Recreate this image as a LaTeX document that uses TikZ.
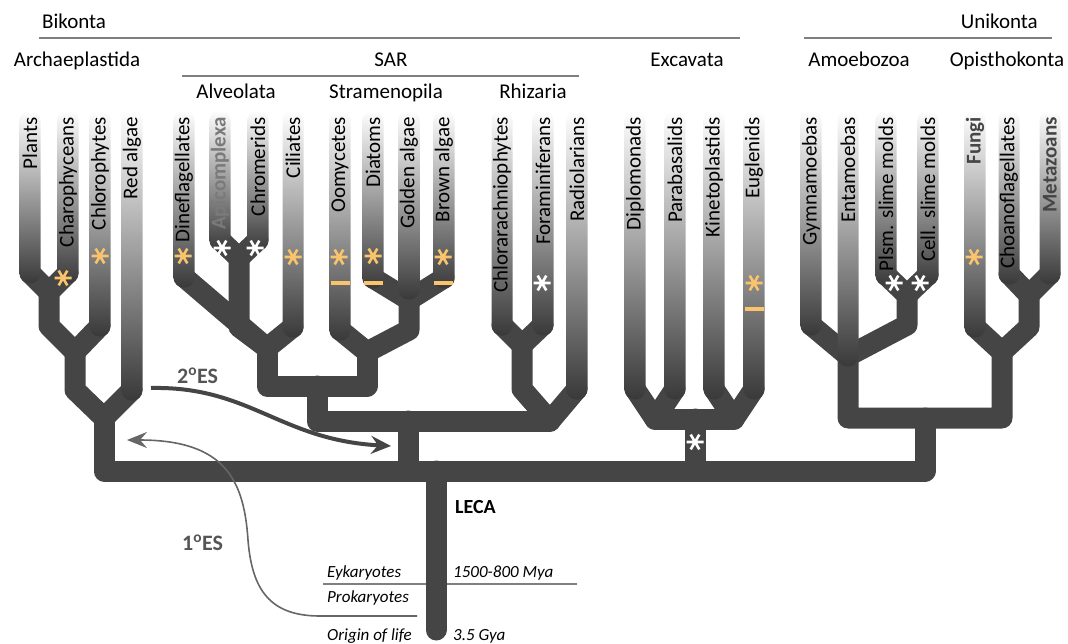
\documentclass[tikz,border=0pt]{standalone}
\usepackage{fontspec}
\setmainfont{Carlito}
\usepackage{tikz}
\usetikzlibrary{backgrounds, calc, arrows.meta}

\definecolor{treegray}{HTML}{454545}
\definecolor{roddark}{HTML}{393939}
\definecolor{markorange}{HTML}{F9C46B}
\definecolor{rulegray}{HTML}{7F7F7F}
\definecolor{esgray}{HTML}{555555}
\definecolor{palegray}{HTML}{7A7A7A}

\newcommand{\taxsize}{\fontsize{21}{25}\selectfont}
\newcommand{\erasize}{\fontsize{17}{20}\selectfont\itshape}

\begin{document}
\begin{tikzpicture}[x=1pt, y=-1pt,
	branch/.style={draw=treegray, line width=21pt, line join=round, line cap=round},
	rule/.style={draw=rulegray, line width=2pt},
	clade/.style={font=\taxsize, anchor=base, inner sep=0pt},
	taxon/.style={font=\taxsize, rotate=90, anchor=east, inner sep=0pt},
	taxonbold/.style={taxon, font=\taxsize\bfseries, text=treegray},
	taxonpale/.style={taxon, font=\taxsize\bfseries, text=palegray},
	era/.style={font=\erasize, anchor=base west, inner sep=0pt},
	eslabel/.style={font=\fontsize{22}{26}\selectfont\bfseries, text=esgray, anchor=base west, inner sep=0pt},
	astmark/.pic={\draw[line width=2.6pt] (-8.5,0) -- (8.5,0) (-4.3,-7.4) -- (4.3,7.4) (-4.3,7.4) -- (4.3,-7.4);},
	dashmark/.pic={\draw[line width=3.4pt] (-9.5,0) -- (9.5,0);}
	]

\useasboundingbox (0,0) rectangle (1068,644);

% groups
\node[clade, anchor=base west] (bikonta) at (42,29) {Bikonta};
\node[clade, anchor=base east] (unikonta) at (1038,29) {Unikonta};
\node[clade] (archae) at (77,67) {Archaeplastida};
\node[clade] (sarname) at (391,67) {SAR};
\node[clade] (excav) at (687,67) {Excavata};
\node[clade] (amoebo) at (859,67) {Amoebozoa};
\node[clade] (opistho) at (1007,67) {Opisthokonta};
\node[clade] (alveo) at (236,99) {Alveolata};
\node[clade] (strameno) at (386,99) {Stramenopila};
\node[clade] (rhiza) at (533,99) {Rhizaria};
\draw[rule] (39,38) -- (740,38);
\draw[rule] (804,38) -- (1052,38);
\draw[rule] (182,76) -- (579,76);

% leaves
\foreach \nm/\x/\yb/\txt/\st in {
	plants/30/273/Plants/taxon,
	charo/68/273/Charophyceans/taxon,
	chloro/100/326/Chlorophytes/taxon,
	red/132/390/Red algae/taxon,
	dino/184/277/Dineflagellates/taxon,
	apico/220/240/Apicomplexa/taxonpale,
	chrom/258/240/Chromerids/taxon,
	cili/293/327/Ciliates/taxon,
	oomy/340/330/Oomycetes/taxon,
	diat/373/278/Diatoms/taxon,
	gold/409/289/Golden algae/taxon,
	brown/444/278/Brown algae/taxon,
	chlor/502/325/Chlorarachniophytes/taxon,
	foram/543/325/Foraminiferans/taxon,
	radio/577/389/Radiolarians/taxon,
	diplo/635/389/Diplomonads/taxon,
	para/675/389/Parabasalids/taxon,
	kine/714/389/Kinetoplastids/taxon,
	eugl/754/389/Euglenids/taxon,
	gymn/811/325/Gymnamoebas/taxon,
	enta/848/356/Entamoebas/taxon,
	plsm/886/275/Plsm. slime molds/taxon,
	cell/928/275/Cell. slime molds/taxon,
	fungi/975/327/Fungi/taxonbold,
	choano/1009/274/Choanoflagellates/taxon,
	meta/1050/274/Metazoans/taxonbold}
{
	\shade[top color=white, bottom color=roddark, rounded corners=10pt]
		(\x-10.5,110) rectangle (\x+10.5,\yb+10.5);
	\coordinate (\nm) at (\x,\yb);
	\node[\st] (\nm-name) at (\x,117) {\txt};
}

\coordinate (j1) at (49,292);
\coordinate (j2) at (75,352);
\coordinate (j3) at (104,418);
\coordinate (jac) at (239,258);
\coordinate (jalv) at (267,348);
\coordinate (jdgb) at (409,300);
\coordinate (jstr) at (367,352);
\coordinate (sar) at (317,386);
\coordinate (jcf) at (522,345);
\coordinate (jrhz) at (550,421);
\coordinate (sarr) at (408,421);
\coordinate (jdp) at (655,419);
\coordinate (jke) at (734,419);
\coordinate (exc) at (695,419);
\coordinate (jpc) at (907,295);
\coordinate (jam) at (848,356);
\coordinate (jcm) at (1029,295);
\coordinate (jop) at (1002,352);
\coordinate (uni) at (925,418);
\coordinate (leca) at (436,471);
\coordinate (origin) at (436,630);

\begin{scope}[on background layer]
\draw[draw=rulegray, line width=1.5pt] (323,584) -- (577,584);
\draw[branch] (plants) -- (j1) -- (charo);
\draw[branch] (j1) -- (j1 |- chloro) -- (j2) -- (chloro);
\draw[branch] (j2) -- (j2 |- red) -- (j3) -- (red);
\draw[branch] (apico) -- (jac) -- (chrom);
\draw[branch] (jac) -- (jac |- cili) -- (jalv) -- (cili);
\draw[branch] (dino) -- (jalv);
\draw[branch] (diat) -- (jdgb) -- (brown);
\draw[branch] (gold) -- (jdgb) -- (jdgb |- oomy) -- (jstr) -- (oomy);
\draw[branch] (jalv) -- (jalv |- sar) -- (jstr |- sar) -- (jstr);
\draw[branch] (sar) -- (sar |- jrhz) -- (jrhz);
\draw[branch] (chlor) -- (jcf) -- (foram);
\draw[branch] (jcf) -- (jcf |- radio) -- (jrhz) -- (radio);
\draw[branch] (sarr) -- (sarr |- leca);
\draw[branch] (diplo) -- (jdp) -- (para);
\draw[branch] (kine) -- (jke) -- (eugl);
\draw[branch] (jdp) -- (jke);
\draw[branch] (exc) -- (exc |- leca);
\draw[branch] (plsm) -- (jpc) -- (cell);
\draw[branch] (jpc) -- (jpc |- gymn) -- (jam) -- (gymn);
\draw[branch] (enta) -- (jam) -- (jam |- uni) -- (jop |- uni) -- (jop) -- (fungi);
\draw[branch] (choano) -- (jcm) -- (meta);
\draw[branch] (jcm) -- (jcm |- fungi) -- (jop);
\draw[branch] (j3) -- (j3 |- leca) -- (uni |- leca) -- (uni);
\draw[branch] (leca) -- (origin);
\end{scope}

% marks
\foreach \p in {(63,278),(100,256),(183,256),(293,257),(339,257),(373,256),(443,257),(754,283),(974,257)}
	\pic[color=markorange] at \p {astmark};
\foreach \p in {(222,248),(255,248),(542,283),(894,283),(920,283),(695,442)}
	\pic[color=white] at \p {astmark};
\foreach \p in {(340,283),(373,283),(443,283),(754,309)}
	\pic[color=markorange] at \p {dashmark};

% endosymbioses
\coordinate (es2from) at (151,388);
\coordinate (es2to) at (391,446);
\coordinate (es1from) at (417,616);
\coordinate (es1to) at (127,440);
\draw[draw=treegray, line width=4pt, -{Stealth[length=20pt, width=18pt, inset=7pt]}]
	(es2from) .. controls (250,386) and (280,440) .. (es2to);
\draw[draw=gray!80!black, line width=1.6pt, -{Stealth[length=20pt, width=16pt, inset=7pt]}]
	(es1from) -- (320,616) .. controls (270,616) and (252,590) .. (248,540)
	.. controls (244,480) and (225,440) .. (es1to);
\node[eslabel] (es2) at (177,383) {2\textsuperscript{o}ES};
\node[eslabel] (es1) at (182,550) {1\textsuperscript{o}ES};

% time axis
\node[font=\fontsize{20}{24}\selectfont\bfseries, anchor=base west, inner sep=0pt] (lecaname) at (455,513) {LECA};
\node[era] (euk) at (327,577) {Eykaryotes};
\node[era] (prok) at (327,602) {Prokaryotes};
\node[era] (olife) at (327,640) {Origin of life};
\node[era] (mya) at (453,577) {1500-800 Mya};
\node[era] (gya) at (453,640) {3.5 Gya};
\end{tikzpicture}
\end{document}
